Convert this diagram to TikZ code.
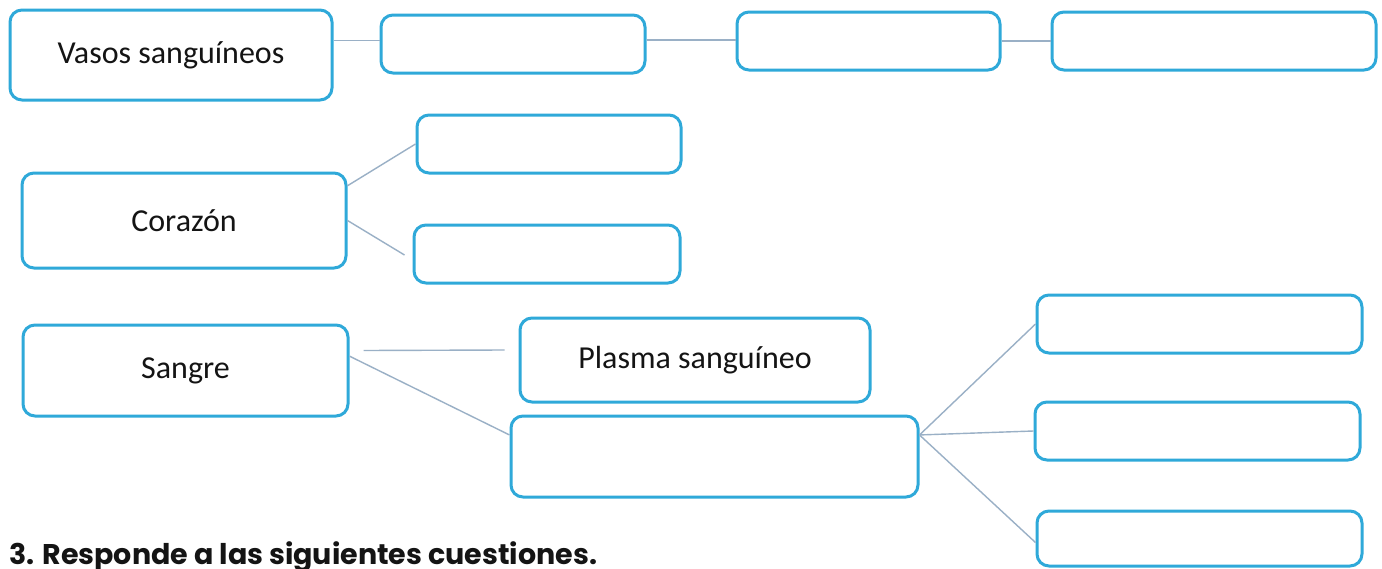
\documentclass[tikz,border=0pt]{standalone}
\usepackage{fontspec}
\setmainfont{Carlito}
\newfontfamily\headfont{Poppins}
\usepackage{tikz}
\usetikzlibrary{positioning,calc}
\definecolor{boxline}{HTML}{2FA9D9}
\definecolor{linkline}{HTML}{9AB0C6}
\definecolor{ink}{HTML}{141414}
\tikzset{
  box/.style={rectangle,draw=boxline,fill=white,line width=3pt,rounded corners=12pt,
    align=center,inner sep=0pt,text=ink,font=\fontsize{32}{38}\selectfont},
  link/.style={draw=linkline,line width=1.4pt},
}
\begin{document}
\begin{tikzpicture}[x=1pt,y=-1pt]
  \fill[white] (0,0) rectangle (1382,568);
  \useasboundingbox (0,0) rectangle (1382,568);
  \node[box,minimum width=322pt,minimum height=90pt] (vasos) at (171,55) {Vasos sanguíneos};
  \node[box,minimum width=264pt,minimum height=58pt] (vasA) at (513,44) {};
  \node[box,minimum width=263pt,minimum height=58pt] (vasB) at (868.5,41) {};
  \node[box,minimum width=324pt,minimum height=58pt] (vasC) at (1214,41) {};
  \node[box,minimum width=324pt,minimum height=95pt] (cor) at (184,220.5) {Corazón};
  \node[box,minimum width=264pt,minimum height=58pt] (corA) at (549,144) {};
  \node[box,minimum width=266pt,minimum height=58pt] (corB) at (547,254) {};
  \node[box,minimum width=325pt,minimum height=91pt] (sangre) at (185.5,370.5) {Sangre};
  \node[box,minimum width=350pt,minimum height=84pt] (plasma) at (695,360) {Plasma sanguíneo};
  \node[box,minimum width=407pt,minimum height=81pt] (cel) at (714.5,456.5) {};
  \node[box,minimum width=325pt,minimum height=58pt] (celA) at (1199.5,324) {};
  \node[box,minimum width=325pt,minimum height=58pt] (celB) at (1197.5,431) {};
  \node[box,minimum width=325pt,minimum height=55pt] (celC) at (1199.5,538.5) {};
  \draw[link] (vasos.5) -- (vasA.west |- vasos.5);
  \draw[link] ([yshift=4pt]vasA.east) -- ([yshift=4pt]vasA.east -| vasB.west);
  \draw[link] (vasB.east) -- (vasB.east -| vasC.west);
  \draw[link] (cor.12) -- (corA.west);
  \draw[link] (cor.east) -- ([xshift=-8pt,yshift=-1pt]corB.west);
  \draw[link] ([shift={(14pt,20pt)}]sangre.east) -- ([shift={(-14pt,10pt)}]plasma.west);
  \draw[link] (sangre.5) -- (cel.174);
  \draw[link] (cel.6) -- (celA.west);
  \draw[link] (cel.6) -- (celB.west);
  \draw[link] (cel.6) -- ([yshift=-4pt]celC.west);
  \node[anchor=base west,inner sep=0pt,text=ink,font=\headfont\bfseries\fontsize{28.5}{32}\selectfont] (preg) at (9,564) {3. Responde a las siguientes cuestiones.};
\end{tikzpicture}
\end{document}
